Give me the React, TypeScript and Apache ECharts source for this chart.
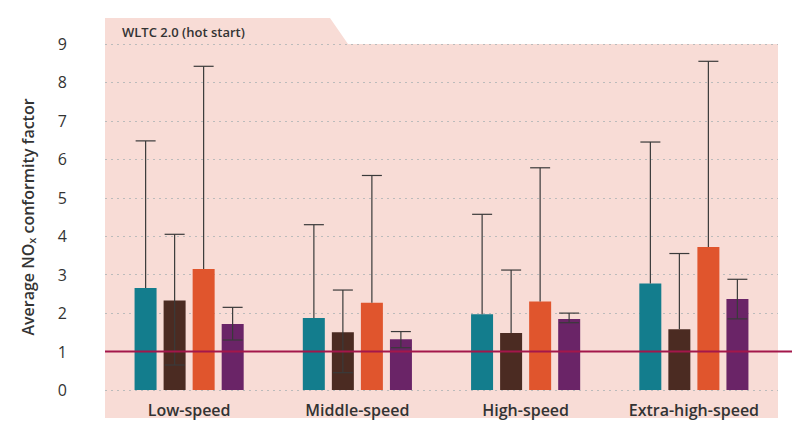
import React, { useEffect, useRef } from "react";
import * as echarts from "echarts";

const categories = ["Low-speed", "Middle-speed", "High-speed", "Extra-high-speed"];
const seriesNames = ["A", "B", "C", "D"];
const colors = ["#137d8d", "#4b2b22", "#e0552d", "#6a2467"];
const values = [
  [2.65, 1.87, 1.97, 2.77],
  [2.33, 1.5, 1.48, 1.58],
  [3.15, 2.27, 2.3, 3.72],
  [1.72, 1.32, 1.85, 2.37],
];
const upper = [
  [6.48, 4.3, 4.57, 6.45],
  [4.05, 2.6, 3.12, 3.55],
  [8.42, 5.58, 5.78, 8.55],
  [2.15, 1.52, 2.0, 2.88],
];
const lower = [
  [2.65, 1.87, 1.97, 2.77],
  [0.65, 0.45, 1.48, 1.58],
  [3.15, 2.27, 2.3, 3.72],
  [1.3, 1.1, 1.75, 1.85],
];
const yTicks = [0, 1, 2, 3, 4, 5, 6, 7, 8, 9];
const refValue = 1;

export default function App() {
  const ref = useRef<HTMLDivElement>(null);
  useEffect(() => {
    const chart = echarts.init(ref.current!, null, { renderer: "svg" });
    const font = "'Open Sans', sans-serif";
    const bw = 22, step = 29;
    const series: any[] = values.map((v, i) => ({
      name: seriesNames[i], type: "bar", data: v, barWidth: bw, barGap: "32%",
      itemStyle: { color: colors[i] }, z: 2,
    }));
    series.push({
      type: "custom", z: 5,
      data: categories.map((_, c) => [c]),
      renderItem: (params: any, api: any) => {
        const c = api.value(0);
        const children: any[] = [];
        for (let i = 0; i < 4; i++) {
          const top = api.coord([c, upper[i][c]]);
          const bot = api.coord([c, lower[i][c]]);
          const x = top[0] + (i - 1.5) * step;
          const st = { stroke: "#3a3a3a", lineWidth: 1.2 };
          children.push({ type: "line", shape: { x1: x, y1: top[1], x2: x, y2: bot[1] }, style: st });
          children.push({ type: "line", shape: { x1: x - 10, y1: top[1], x2: x + 10, y2: top[1] }, style: st });
          if (lower[i][c] !== values[i][c])
            children.push({ type: "line", shape: { x1: x - 10, y1: bot[1], x2: x + 10, y2: bot[1] }, style: st });
        }
        return { type: "group", children };
      },
    });
    const bg = [
      { type: "polygon", z: -10, shape: { points: [[105, 18], [330, 18], [348, 44], [778, 44], [778, 418], [105, 418]] }, style: { fill: "#f8dcd6" } },
      { type: "text", x: 122, y: 25, style: { text: "WLTC 2.0 (hot start)", fontSize: 13, fontWeight: 600, fill: "#333", fontFamily: font } },
    ];
    chart.setOption({
      animation: false,
      textStyle: { fontFamily: font },
      grid: { left: 105, right: 22, top: 44, bottom: 45 },
      graphic: bg,
      xAxis: {
        type: "category", data: categories,
        axisLine: { show: false }, axisTick: { show: false },
        axisLabel: { fontSize: 16, fontWeight: 600, color: "#333", margin: 12, interval: 0 },
      },
      yAxis: {
        type: "value", min: 0, max: 9, interval: 1,
        name: "{a|Average NO}{s|x}{a| conformity factor}", nameLocation: "middle", nameGap: 68, nameRotate: 90,
        nameTextStyle: { rich: { a: { fontSize: 16, fontWeight: 600, color: "#333" }, s: { fontSize: 11, fontWeight: 600, color: "#333", verticalAlign: "bottom", padding: [8, 0, 0, 0] } } },
        axisLabel: { fontSize: 16, color: "#333", margin: 38, formatter: (v: number) => (yTicks.includes(v) ? String(v) : "") },
        splitLine: { lineStyle: { type: [2, 4], color: "#bbb" } },
      },
      series,
    });
    const y1 = chart.convertToPixel({ yAxisIndex: 0 }, refValue) as number;
    chart.setOption({
      graphic: [
        ...bg,
        { type: "line", z: 100, shape: { x1: 105, y1, x2: 800, y2: y1 }, style: { stroke: "#a3174b", lineWidth: 2 } },
      ],
    });
    return () => chart.dispose();
  }, []);
  return <div ref={ref} style={{ width: 800, height: 435, margin: -8 }} />;
}
